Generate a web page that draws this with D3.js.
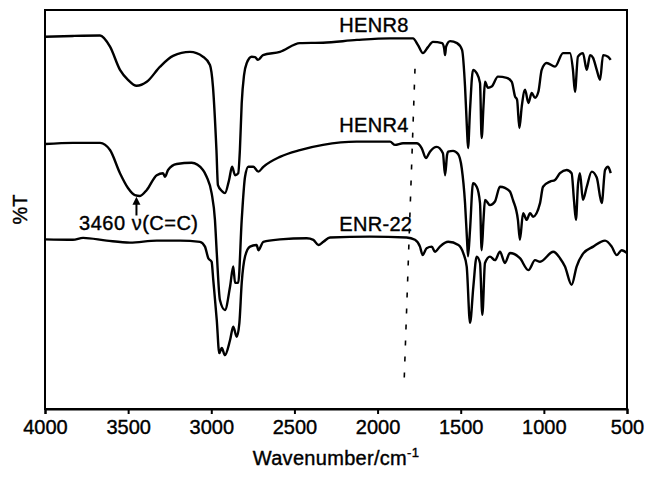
<!DOCTYPE html>
<html>
<head>
<meta charset="utf-8">
<script src="https://cdn.jsdelivr.net/npm/d3@7/dist/d3.min.js"></script>
<style>
  html, body { margin: 0; padding: 0; background: #fff; }
  svg { display: block; font-family: "Liberation Sans", Arial, Helvetica, sans-serif; }
  .lbl { stroke: #000; stroke-width: 0.4px; fill: #000; }
</style>
</head>
<body>
<svg id="chart" width="648" height="477"></svg>
<script>
// ---- Data (wavenumber in cm^-1, transmittance in arbitrary %T units, spectra offset as in figure) ----
const xTicks = [4000, 3500, 3000, 2500, 2000, 1500, 1000, 500];
const seriesNames = ["HENR8", "HENR4", "ENR-22"];

const henr8 = [
  [4000,93.3],[3832,93.5],[3669,93.6],[3609,90.8],[3549,85.0],[3501,82.5],[3449,81.0],[3388,82.0],
  [3308,85.8],[3230,88.5],[3128,89.5],[3050,88.3],[3008,86.2],[2990,80.8],[2969,64.9],[2960,56.1],
  [2936,54.6],[2918,54.1],[2893,57.4],[2875,60.7],[2857,58.6],[2838,59.1],[2828,64.9],[2817,76.7],
  [2803,83.7],[2787,86.7],[2757,88.3],[2737,88.2],[2719,87.5],[2689,88.7],[2587,89.5],[2467,91.7],
  [2328,91.8],[2124,92.5],[1925,92.9],[1787,92.9],[1757,91.2],[1727,89.2],[1697,90.7],[1667,92.0],
  [1612,91.7],[1600,90.5],[1594,88.7],[1588,90.8],[1564,92.2],[1522,91.7],[1492,90.0],[1474,80.8],
  [1462,69.9],[1456,65.4],[1444,75.0],[1426,85.0],[1404,84.2],[1384,81.7],[1374,67.9],[1363,76.0],
  [1354,82.0],[1336,80.5],[1314,80.8],[1276,83.3],[1223,83.0],[1193,82.0],[1173,78.3],[1161,77.5],
  [1147,70.4],[1133,75.8],[1113,80.0],[1093,76.7],[1073,79.2],[1053,78.0],[1033,79.5],[1013,85.0],
  [983,86.7],[933,85.8],[885,89.2],[843,89.2],[825,85.0],[813,79.5],[795,88.3],[765,89.2],
  [742,85.0],[722,88.7],[704,88.0],[682,85.0],[662,82.5],[644,88.7],[614,88.3],[598,87.5]
];

const henr4 = [
  [4000,66.4],[3832,66.7],[3669,66.7],[3609,64.9],[3549,59.1],[3501,55.4],[3459,53.6],[3429,53.4],
  [3388,54.9],[3328,58.6],[3290,59.1],[3278,58.2],[3260,59.9],[3208,61.4],[3118,61.7],[3050,59.9],
  [3028,58.2],[2998,54.1],[2978,47.4],[2967,39.1],[2948,27.3],[2918,24.8],[2887,30.7],[2868,35.7],
  [2857,31.6],[2838,31.6],[2817,47.4],[2797,58.2],[2777,60.7],[2747,60.7],[2717,59.5],[2687,60.7],
  [2587,63.2],[2467,64.9],[2328,66.2],[2126,67.0],[1925,67.0],[1895,66.2],[1847,66.6],[1765,66.6],
  [1735,65.4],[1709,62.9],[1685,64.5],[1644,65.7],[1607,64.1],[1594,58.6],[1582,63.7],[1576,64.5],
  [1546,64.7],[1516,63.9],[1494,60.4],[1474,51.6],[1462,42.4],[1456,38.3],[1444,44.9],[1426,56.6],
  [1404,55.7],[1384,51.6],[1374,39.8],[1363,47.4],[1354,52.4],[1324,51.1],[1294,52.0],[1264,55.7],
  [1234,55.4],[1204,54.5],[1186,52.4],[1156,47.4],[1144,42.4],[1125,49.1],[1103,47.4],[1083,49.1],
  [1065,48.2],[1023,51.6],[1005,55.7],[963,57.0],[933,57.4],[903,59.1],[863,59.9],[833,59.1],
  [819,52.4],[807,47.4],[795,56.1],[783,59.1],[765,52.4],[742,55.7],[712,59.5],[682,58.0],
  [652,51.6],[632,59.9],[614,60.7],[598,59.1]
];

const enr22 = [
  [4000,42.5],[3832,42.4],[3771,42.9],[3629,42.2],[3489,41.7],[3328,42.2],[3188,42.2],[3068,41.9],
  [3038,40.7],[3018,37.8],[2998,36.9],[2988,32.3],[2967,22.3],[2952,14.0],[2937,15.3],[2918,13.5],
  [2887,17.3],[2868,20.6],[2847,18.1],[2831,21.6],[2817,31.6],[2797,38.2],[2767,40.7],[2727,41.1],
  [2717,39.8],[2687,41.9],[2587,42.5],[2426,42.8],[2386,42.4],[2356,41.1],[2326,41.9],[2286,43.0],
  [2046,43.2],[1825,43.0],[1775,42.4],[1745,40.7],[1729,38.6],[1705,40.3],[1674,40.7],[1655,39.4],
  [1625,40.7],[1575,41.9],[1514,41.1],[1484,39.0],[1464,35.7],[1444,21.6],[1424,30.7],[1404,38.2],
  [1384,36.6],[1370,23.6],[1354,36.6],[1324,38.2],[1294,37.3],[1264,39.4],[1234,36.6],[1204,39.1],
  [1144,37.8],[1093,34.8],[1053,37.3],[1023,36.9],[943,39.4],[903,37.8],[873,35.7],[833,31.1],
  [803,35.7],[763,39.0],[703,40.7],[632,42.2],[592,40.7],[562,38.6],[532,39.8],[500,39.1]
];

// annotation positions (data units)
const labelPos = [[2230,94.5],[2230,69.5],[2230,44.5]];
const peakLabel = "3460 \u03BD(C=C)";
const peakWave = 3450;
const dashedLine = [[1775,85.3],[1841,6]];

// ---- Layout ----
const svg = d3.select("#chart");
const margin = {left: 45, right: 21, top: 10, bottom: 68};
const W = 648, H = 477;
const x = d3.scaleLinear().domain([4000, 500]).range([margin.left, W - margin.right]);
const y = d3.scaleLinear().domain([0, 100]).range([H - margin.bottom, margin.top]);

// frame
svg.append("rect")
  .attr("x", x(4000)).attr("y", y(100))
  .attr("width", x(500) - x(4000)).attr("height", y(0) - y(100))
  .attr("fill", "none").attr("stroke", "#000").attr("stroke-width", 2);

// x axis
const xAxis = d3.axisBottom(x).tickValues(xTicks).tickSize(5).tickPadding(6).tickFormat(d3.format("d"));
const gx = svg.append("g").attr("transform", `translate(0,${y(0)})`).call(xAxis);
gx.select(".domain").attr("stroke-width", 2);
gx.selectAll(".tick line").attr("stroke-width", 2);
gx.selectAll(".tick text").attr("font-size", 20).attr("class", "lbl")
  .attr("font-family", "'Liberation Sans', Arial, sans-serif");

// axis titles
const xt = svg.append("text").attr("class", "lbl")
  .attr("x", (x(4000) + x(500)) / 2).attr("y", 465)
  .attr("text-anchor", "middle").attr("font-size", 20).attr("letter-spacing", 0.3);
xt.append("tspan").text("Wavenumber/cm");
xt.append("tspan").attr("font-size", 13).attr("dy", -8).text("-1");

svg.append("text").attr("class", "lbl")
  .attr("transform", `translate(27,${(y(0) + y(100)) / 2}) rotate(-90)`)
  .attr("text-anchor", "middle").attr("font-size", 20)
  .text("%T");

// spectra
const line = d3.line().x(d => x(d[0])).y(d => y(d[1])).curve(d3.curveMonotoneX);
[henr8, henr4, enr22].forEach(s => {
  svg.append("path").datum(s).attr("d", line)
    .attr("fill", "none").attr("stroke", "#000").attr("stroke-width", 2.4)
    .attr("stroke-linejoin", "round");
});

// dashed marker line
svg.append("line")
  .attr("x1", x(dashedLine[0][0])).attr("y1", y(dashedLine[0][1]))
  .attr("x2", x(dashedLine[1][0])).attr("y2", y(dashedLine[1][1]))
  .attr("stroke", "#000").attr("stroke-width", 1.6).attr("stroke-dasharray", "5,11");

// series labels
seriesNames.forEach((n, i) => {
  svg.append("text").attr("class", "lbl")
    .attr("x", x(labelPos[i][0])).attr("y", y(labelPos[i][1]))
    .attr("font-size", 20).attr("letter-spacing", 0.3).text(n);
});

// peak annotation
svg.append("text").attr("class", "lbl").attr("x", x(3795)).attr("y", y(44.8))
  .attr("font-size", 20).attr("letter-spacing", 0.5).text(peakLabel);
const ax = x(peakWave);
svg.append("line").attr("x1", ax).attr("x2", ax).attr("y1", y(48.5)).attr("y2", y(51.5))
  .attr("stroke", "#000").attr("stroke-width", 2);
svg.append("path")
  .attr("d", `M${ax},${y(53.2)} L${ax - 4},${y(51.2)} L${ax + 4},${y(51.2)} Z`)
  .attr("fill", "#000");
</script>
</body>
</html>
